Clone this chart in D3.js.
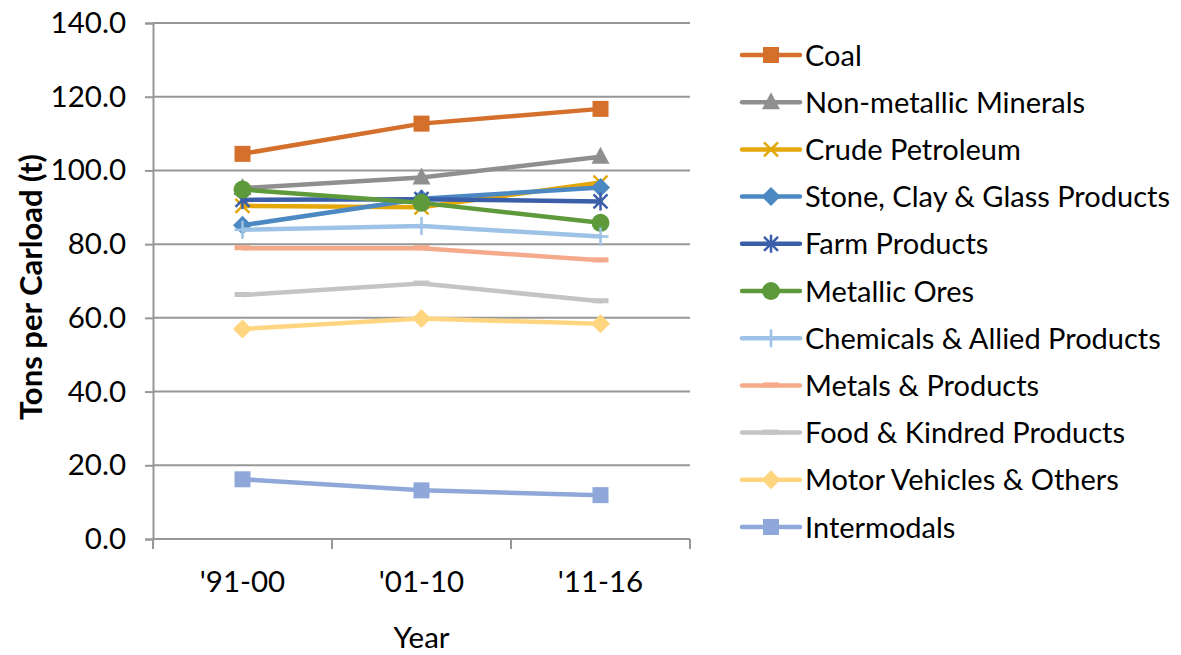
<!DOCTYPE html>
<html>
<head>
<meta charset="utf-8">
<script src="https://cdn.jsdelivr.net/npm/d3@7"></script>
<style>
  html, body { margin: 0; padding: 0; background: #fff; }
  svg { display: block; font-family: Lato, "Open Sans", sans-serif; }
</style>
</head>
<body>
<svg id="chart" width="1181" height="655"></svg>
<script>
// Average tons per carload by commodity group and period
const periods = ["'91-00", "'01-10", "'11-16"];
const seriesNames = [
  "Coal", "Non-metallic Minerals", "Crude Petroleum", "Stone, Clay & Glass Products",
  "Farm Products", "Metallic Ores", "Chemicals & Allied Products", "Metals & Products",
  "Food & Kindred Products", "Motor Vehicles & Others", "Intermodals"
];
const coal        = [104.5, 112.7, 116.7];
const nonMetallic = [95.2, 98.1, 103.7];
const crude       = [90.4, 90.0, 96.7];
const stoneClay   = [85.1, 92.3, 95.4];
const farm        = [92.0, 92.2, 91.6];
const metallicOre = [94.8, 91.2, 85.8];
const chemicals   = [83.9, 84.9, 82.1];
const metals      = [78.9, 78.9, 75.6];
const food        = [66.2, 69.3, 64.5];
const motor       = [57.0, 59.8, 58.4];
const intermodals = [16.2, 13.2, 11.9];
const yTicks = [0, 20, 40, 60, 80, 100, 120, 140];

const seriesValues = [coal, nonMetallic, crude, stoneClay, farm, metallicOre,
  chemicals, metals, food, motor, intermodals];
const colors = ["#d5702c", "#8f8f8f", "#e3a70a", "#4c89c3", "#3b5ea9", "#5e9a3c",
  "#9dc2e5", "#f4aa8b", "#c4c4c4", "#ffd57f", "#8fa8d9"];
const markers = ["square", "triangle", "x", "diamond", "star", "circle",
  "plus", "dash", "dash", "diamond", "square"];

const svg = d3.select("#chart");
const plotLeft = 153, plotRight = 690, plotTop = 23, plotBottom = 539;
const numFont = 29.5, legendFont = 29, titleFont = 31;

const x = d3.scaleBand().domain(periods).range([plotLeft, plotRight]).paddingInner(0).paddingOuter(0);
const y = d3.scaleLinear().domain([0, 140]).range([plotBottom, plotTop]);
const cx = p => x(p) + x.bandwidth() / 2;

const gridColor = "#979797";

// horizontal gridlines
svg.append("g").selectAll("line").data(yTicks.filter(t => t > 0)).join("line")
  .attr("x1", plotLeft).attr("x2", plotRight)
  .attr("y1", d => y(d)).attr("y2", d => y(d))
  .attr("stroke", gridColor).attr("stroke-width", 2);

// y axis
const yAxis = svg.append("g").attr("transform", `translate(${plotLeft},0)`)
  .call(d3.axisLeft(y).tickValues(yTicks).tickFormat(d3.format(".1f")).tickSize(8).tickPadding(19));
yAxis.select(".domain").attr("stroke", gridColor).attr("stroke-width", 2);
yAxis.selectAll(".tick line").attr("stroke", gridColor).attr("stroke-width", 2);
yAxis.selectAll(".tick text").attr("font-size", numFont).attr("fill", "#000")
  .attr("font-family", "Lato, sans-serif");

// x axis with ticks between categories
const xAxis = svg.append("g").attr("transform", `translate(0,${plotBottom})`);
xAxis.append("line").attr("x1", plotLeft).attr("x2", plotRight).attr("y1", 0).attr("y2", 0)
  .attr("stroke", gridColor).attr("stroke-width", 2);
const bounds = periods.map(p => x(p)).concat([plotRight]);
xAxis.selectAll("line.tk").data(bounds).join("line").attr("class", "tk")
  .attr("x1", d => d).attr("x2", d => d).attr("y1", 0).attr("y2", 10)
  .attr("stroke", gridColor).attr("stroke-width", 2);
xAxis.selectAll("text").data(periods).join("text")
  .attr("x", d => cx(d)).attr("y", 53)
  .attr("text-anchor", "middle").attr("font-size", numFont).attr("fill", "#000")
  .text(d => d);

// axis titles
svg.append("text").attr("x", cx(periods[1])).attr("y", 648)
  .attr("text-anchor", "middle").attr("font-size", numFont).attr("fill", "#000").text("Year");
svg.append("text").attr("transform", `translate(42,${(plotTop + plotBottom) / 2 + 6}) rotate(-90)`)
  .attr("text-anchor", "middle").attr("font-size", titleFont).attr("font-weight", "bold")
  .attr("fill", "#000").text("Tons per Carload (t)");

// marker drawing
function drawMarker(g, type, color) {
  const s = 16;
  if (type === "square") {
    g.append("rect").attr("x", -s / 2).attr("y", -s / 2).attr("width", s).attr("height", s).attr("fill", color);
  } else if (type === "triangle") {
    g.append("path").attr("d", "M0,-10 L9,7 L-9,7 Z").attr("fill", color);
  } else if (type === "diamond") {
    g.append("path").attr("d", "M0,-9.5 L9.5,0 L0,9.5 L-9.5,0 Z").attr("fill", color);
  } else if (type === "circle") {
    g.append("circle").attr("r", 9).attr("fill", color);
  } else if (type === "x") {
    g.append("path").attr("d", "M-7,-7 L7,7 M-7,7 L7,-7").attr("stroke", color).attr("stroke-width", 2.5).attr("fill", "none");
  } else if (type === "star") {
    g.append("path").attr("d", "M-7,-7 L7,7 M-7,7 L7,-7 M0,-9 L0,9").attr("stroke", color).attr("stroke-width", 2.5).attr("fill", "none");
  } else if (type === "plus") {
    g.append("path").attr("d", "M-8,0 L8,0 M0,-9 L0,9").attr("stroke", color).attr("stroke-width", 2.5).attr("fill", "none");
  } else if (type === "dash") {
    g.append("rect").attr("x", -8).attr("y", -3).attr("width", 16).attr("height", 5).attr("fill", color);
  }
}

const line = d3.line().x((d, i) => cx(periods[i])).y(d => y(d));

// series lines and markers, drawn in series order
seriesValues.forEach((vals, si) => {
  const g = svg.append("g");
  g.append("path").datum(vals).attr("d", line)
    .attr("fill", "none").attr("stroke", colors[si]).attr("stroke-width", 4.5)
    .attr("stroke-linejoin", "round").attr("stroke-linecap", "round");
  vals.forEach((v, i) => {
    drawMarker(g.append("g").attr("transform", `translate(${cx(periods[i])},${y(v)})`), markers[si], colors[si]);
  });
});

// legend
const legend = svg.append("g");
seriesNames.forEach((name, i) => {
  const ly = 55 + i * 47.2;
  const g = legend.append("g").attr("transform", `translate(0,${ly})`);
  g.append("line").attr("x1", 742).attr("x2", 800).attr("y1", 0).attr("y2", 0)
    .attr("stroke", colors[i]).attr("stroke-width", 4.5).attr("stroke-linecap", "round");
  drawMarker(g.append("g").attr("transform", "translate(771,0)"), markers[i], colors[i]);
  g.append("text").attr("x", 805).attr("y", 10.5).attr("font-size", legendFont).attr("fill", "#000").text(name);
});
</script>
</body>
</html>
